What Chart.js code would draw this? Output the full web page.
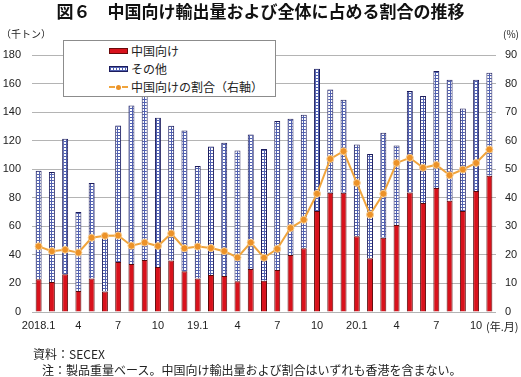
<!DOCTYPE html>
<html lang="ja">
<head>
<meta charset="utf-8">
<script src="https://cdn.jsdelivr.net/npm/chart.js@4.4.1/dist/chart.umd.min.js"></script>
<style>
  body { margin: 0; background: #fff; }
  #page { position: relative; width: 521px; height: 377px; overflow: hidden;
          font-family: "Liberation Sans", "Noto Sans CJK JP", sans-serif; color: #222; }
  #chart { position: absolute; left: 0; top: 0; }
  .txt { position: absolute; white-space: nowrap; }
  #title { left: 0; top: 0; width: 521px; text-align: center; font-family: "Noto Sans CJK JP", sans-serif;
           font-weight: bold; font-size: 17px; line-height: 22px; color: #111; }
  .unit { font-family: "Noto Sans CJK JP", sans-serif; font-size: 10px; }
  .note { font-family: "Noto Sans CJK JP", sans-serif; font-size: 12px; }
  #legend { position: absolute; left: 63px; top: 40px; width: 211px; height: 55px; background: #fff;
            border: 1px solid #8c8c8c; font-family: "Noto Sans CJK JP", sans-serif; font-size: 12px; }
  #legend .row { position: absolute; left: 45px; height: 16px; line-height: 16px; display: flex; align-items: center; }
  .sw { display: inline-block; width: 19px; height: 6px; margin-right: 3px; box-sizing: border-box; }
  .sw-red { background: #d8121c; border: 1px solid #6a0a0a; }
  .sw-other { background-color: #fff; border: 1px solid #1c1c5c;
              background-image: linear-gradient(90deg, #5060b0 1px, transparent 1px), linear-gradient(#5060b0 1px, transparent 1px);
              background-size: 3px 3px; }
  .sw-line { position: relative; width: 19px; height: 8px; margin-right: 3px; }
  .sw-line::before { content: ""; position: absolute; left: 0; right: 0; top: 3px; border-top: 2px dashed #f0a43c; }
  .sw-line::after { content: ""; position: absolute; left: 7px; top: 2px; width: 5px; height: 5px; border-radius: 50%; background: #ec9228; }
</style>
</head>
<body>
<div id="page">
  <canvas id="chart" width="521" height="377"></canvas>
  <div id="title" class="txt">図６　中国向け輸出量および全体に占める割合の推移</div>
  <div class="txt unit" style="left:1px; top:26px;">（千トン）</div>
  <div class="txt unit" style="left:503px; top:26px;">(%)</div>
  <div class="txt unit" style="left:486px; top:318px; font-size:11px;">(年.月)</div>
  <div id="legend">
    <div class="row" style="top:2px;"><span class="sw sw-red"></span>中国向け</div>
    <div class="row" style="top:20px;"><span class="sw sw-other"></span>その他</div>
    <div class="row" style="top:38px;"><span class="sw-line"></span>中国向けの割合（右軸）</div>
  </div>
  <div class="txt note" style="left:33px; top:345px;">資料：SECEX</div>
  <div class="txt note" style="left:42px; top:361px;">注：製品重量ベース。中国向け輸出量および割合はいずれも香港を含まない。</div>
</div>
<script>
const months = ['2018.1', '', '', '4', '', '', '7', '', '', '10', '', '',
                '19.1', '', '', '4', '', '', '7', '', '', '10', '', '',
                '20.1', '', '', '4', '', '', '7', '', '', '10', ''];

// 中国向け (千トン)
const chinaVol = [23, 21, 26.5, 14.7, 23.5, 14.3, 35, 33.6, 36.5, 31.6, 36, 28.6,
                  23.4, 25.9, 25.3, 21.5, 30.2, 21.8, 29.5, 40, 44.6, 70.7, 83.5, 83.5,
                  53, 37.7, 52, 61, 83.7, 76.3, 86.9, 78, 70.7, 84.8, 95.4];

// その他 (千トン)
const otherVol = [76, 77, 94.8, 55.3, 66.9, 39.8, 95.6, 111.1, 114.7, 104.4, 94.4, 98.5,
                  78.9, 90, 93.2, 91.6, 94.1, 92.4, 104.2, 95.3, 93.5, 99.7, 72.4, 65.2,
                  64.3, 73, 73.5, 55.6, 71, 74.9, 81.9, 84.7, 71.9, 77.9, 72.2];

// 中国向けの割合 (%)
const chinaShare = [23.0, 21.3, 21.8, 20.8, 26.0, 26.7, 26.8, 23.2, 24.3, 23.1, 27.5, 22.3,
                    22.9, 22.4, 21.3, 19.1, 24.3, 19.0, 22.1, 29.4, 32.3, 41.4, 53.6, 56.3,
                    45.2, 34.1, 41.4, 52.2, 54.0, 50.5, 51.5, 47.9, 49.9, 52.2, 56.9];

const leftTicks = [0, 20, 40, 60, 80, 100, 120, 140, 160, 180];
const rightTicks = [0, 10, 20, 30, 40, 50, 60, 70, 80, 90];

// 市松模様のパターン（その他）
function makeGrid() {
  const c = document.createElement('canvas');
  c.width = 3; c.height = 3;
  const g = c.getContext('2d');
  g.fillStyle = '#ffffff';
  g.fillRect(0, 0, 3, 3);
  g.fillStyle = '#5060b0';
  g.fillRect(0, 0, 3, 1);
  g.fillRect(0, 0, 1, 3);
  return g.createPattern(c, 'repeat');
}

const tickFont = { family: '"Liberation Sans", Arial, sans-serif', size: 11 };

new Chart(document.getElementById('chart'), {
  data: {
    labels: months,
    datasets: [
      {
        type: 'line',
        label: '中国向けの割合（右軸）',
        data: chinaShare,
        yAxisID: 'y1',
        borderColor: '#f0a43c',
        borderWidth: 2,
        pointRadius: 3.5,
        pointBackgroundColor: '#ec9228',
        pointBorderColor: '#f9cf94',
        pointBorderWidth: 1,
        tension: 0,
        order: 0
      },
      {
        type: 'bar',
        label: '中国向け',
        data: chinaVol,
        backgroundColor: '#d8121c',
        borderColor: '#5a0808',
        borderWidth: 1,
        categoryPercentage: 1,
        barPercentage: 0.45,
        stack: 's',
        order: 1
      },
      {
        type: 'bar',
        label: 'その他',
        data: otherVol,
        backgroundColor: makeGrid(),
        borderColor: '#1c1c5c',
        borderWidth: 1,
        categoryPercentage: 1,
        barPercentage: 0.45,
        stack: 's',
        order: 1
      }
    ]
  },
  options: {
    responsive: false,
    animation: false,
    layout: { padding: { top: 55, bottom: 43, left: 0, right: 0 } },
    plugins: {
      legend: { display: false },
      tooltip: { enabled: false }
    },
    scales: {
      x: {
        stacked: true,
        grid: { display: false, drawTicks: false },
        border: { display: false },
        ticks: { color: '#222', font: tickFont, autoSkip: false, maxRotation: 0, padding: 7 },
        afterFit: (s) => { s.height = 22; }
      },
      y: {
        stacked: true,
        position: 'left',
        min: 0, max: 180,
        afterBuildTicks: (s) => { s.ticks = leftTicks.map(v => ({ value: v })); },
        grid: { color: '#b4b4b4', drawTicks: false },
        border: { display: false },
        ticks: { color: '#222', font: tickFont, padding: 11 },
        afterFit: (s) => { s.width = 32; }
      },
      y1: {
        position: 'right',
        min: 0, max: 90,
        afterBuildTicks: (s) => { s.ticks = rightTicks.map(v => ({ value: v })); },
        grid: { drawOnChartArea: false, drawTicks: false },
        border: { display: false },
        ticks: { color: '#222', font: tickFont, padding: 9 },
        afterFit: (s) => { s.width = 25; }
      }
    }
  }
});
</script>
</body>
</html>
